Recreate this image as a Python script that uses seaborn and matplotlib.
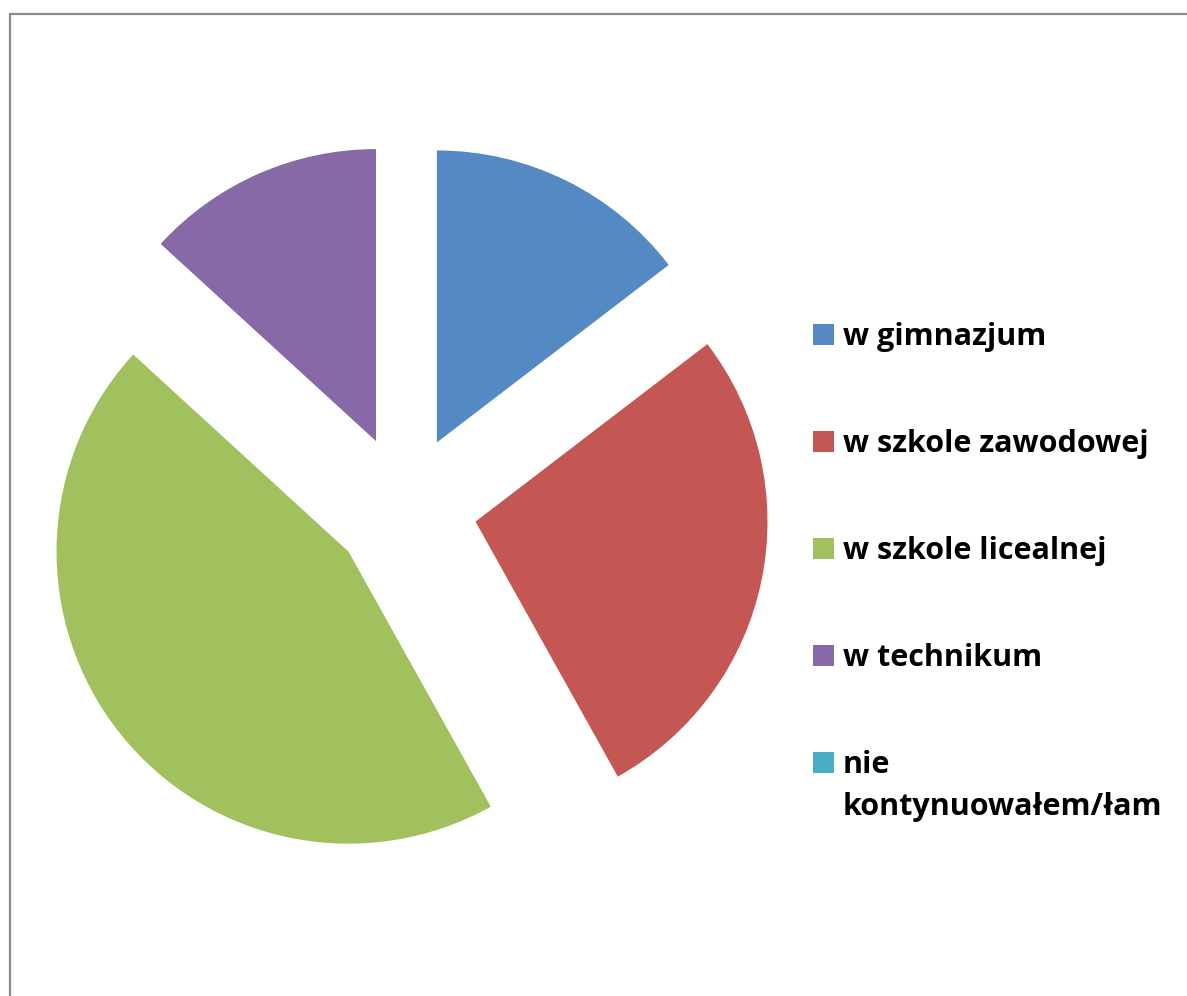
import matplotlib
matplotlib.use("Agg")
import matplotlib.pyplot as plt
import seaborn as sns
from matplotlib.patches import Rectangle
from matplotlib.lines import Line2D

labels = ["w gimnazjum", "w szkole zawodowej", "w szkole licealnej",
          "w technikum", "nie\nkontynuowałem/łam"]
values = [14.6, 27.3, 44.9, 13.2, 0.0]
colors = ["#5589C4", "#C45754", "#A1C15F", "#8669A6", "#4BACC6"]

sns.set_style("white")
plt.rcParams["font.family"] = ["Open Sans", "DejaVu Sans"]

W, H = 1187, 996
fig = plt.figure(figsize=(W / 100, H / 100), dpi=100)
ax = fig.add_axes([0, 0, 1, 1])

# explode is in data units here (radius is 292)
ax.pie(values, colors=colors, startangle=90, counterclock=False,
       center=(405, H - 507), radius=292, explode=[72] * len(values),
       wedgeprops=dict(linewidth=0), frame=True)
ax.set_xlim(0, W)
ax.set_ylim(0, H)
ax.set_aspect("equal")
ax.axis("off")

# chart frame (top and left edges visible)
ax.add_line(Line2D([10, 10], [0, H - 14], color="#8c8c8c", lw=1.6))
ax.add_line(Line2D([10, W], [H - 14, H - 14], color="#8c8c8c", lw=1.6))

# legend
ys = [334, 441, 548, 655, 762]
for lab, col, y in zip(labels, colors, ys):
    ax.add_patch(Rectangle((813, H - y - 10.5), 21, 21, color=col, lw=0))
    ax.text(843, H - y + 12, lab, fontsize=22, fontweight="bold",
            va="top", ha="left", color="black", linespacing=1.52)

fig.savefig("out.png", dpi=100)
